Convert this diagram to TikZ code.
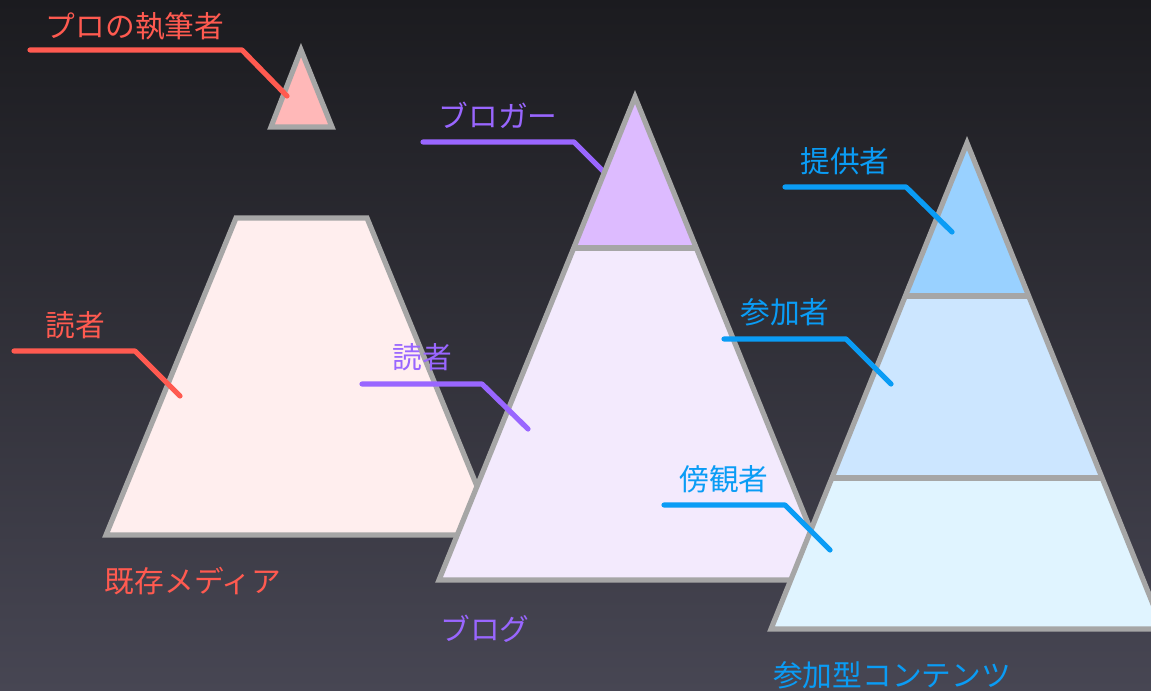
\documentclass[tikz,border=0pt]{standalone}
\usepackage{fontspec}
\setmainfont{Noto Sans CJK JP}
\definecolor{edgegray}{HTML}{A6A6A6}
\definecolor{cred}{HTML}{FF5A50}
\definecolor{cpurple}{HTML}{9966FF}
\definecolor{cblue}{HTML}{0A9CF5}
\definecolor{bgtop}{HTML}{1B1B1F}
\definecolor{bgbot}{HTML}{474653}
\definecolor{fpro}{RGB}{255,184,184}
\definecolor{fmedia}{RGB}{255,238,238}
\definecolor{fblogtop}{RGB}{221,187,255}
\definecolor{fblogbot}{RGB}{243,234,253}
\definecolor{fpctop}{RGB}{153,209,255}
\definecolor{fpcmid}{RGB}{204,230,255}
\definecolor{fpcbot}{RGB}{224,244,255}
\begin{document}
\begin{tikzpicture}[x=0.75pt,y=-0.75pt,
  shapeedge/.style={draw=edgegray,line width=3.9pt,miter limit=10,line join=miter},
  leader/.style={line width=3.9pt,line cap=round,line join=round},
  lbl/.style={inner sep=0pt,font=\fontsize{22.3}{27}\selectfont}]
\useasboundingbox (0,0) rectangle (1151,691);
\clip (0,0) rectangle (1151,691);
\shade[top color=bgtop,bottom color=bgbot] (0,0) rectangle (1151,691);

% small triangle
\draw[shapeedge,fill=fpro] (301,50) -- (332,127) -- (271,127) -- cycle;
% trapezoid
\draw[shapeedge,fill=fmedia] (236,218) -- (367,218) -- (497,535) -- (106,535) -- cycle;

% blogger leader (behind blog triangle)
\coordinate (bgA) at (423,142);
\coordinate (bgB) at (574,142);
\coordinate (bgC) at (612,180);
\draw[leader,cpurple] (bgA) -- (bgB) -- (bgC);

% blog triangle
\fill[fblogbot] (574,248) -- (696,248) -- (831,580) -- (439,580) -- cycle;
\fill[fblogtop] (635,97) -- (696,248) -- (574,248) -- cycle;
\draw[shapeedge] (574,248) -- (696,248);
\draw[shapeedge] (635,97) -- (831,580) -- (439,580) -- cycle;

% participatory triangle
\fill[fpcbot] (832,478) -- (1102,478) -- (1163,629) -- (771,629) -- cycle;
\fill[fpcmid] (905,296) -- (1029,296) -- (1102,478) -- (832,478) -- cycle;
\fill[fpctop] (967,143) -- (1029,296) -- (905,296) -- cycle;
\draw[shapeedge] (905,296) -- (1029,296);
\draw[shapeedge] (832,478) -- (1102,478);
\draw[shapeedge] (967,143) -- (1163,629) -- (771,629) -- cycle;

% labels
\node[lbl,text=cred] (pro) at (135,26) {プロの執筆者};
\node[lbl,text=cred] (rd1) at (75,325) {読者};
\node[lbl,text=cpurple] (blogger) at (498,115) {ブロガー};
\node[lbl,text=cpurple] (rd2) at (422,357) {読者};
\node[lbl,text=cblue] (prov) at (845,161) {提供者};
\node[lbl,text=cblue] (part) at (785,312) {参加者};
\node[lbl,text=cblue] (obs) at (724,479) {傍観者};
\node[lbl,text=cred] (media) at (193,581) {既存メディア};
\node[lbl,text=cpurple] (blog) at (485,629) {ブログ};
\node[lbl,text=cblue] (pc) at (892,675) {参加型コンテンツ};

% leaders on top
\coordinate (pA) at (30,50);  \coordinate (pB) at (242,50);  \coordinate (pC) at (287,96);
\draw[leader,cred] (pA) -- (pB) -- (pC);
\coordinate (r1A) at (14,351); \coordinate (r1B) at (135,351); \coordinate (r1C) at (180,396);
\draw[leader,cred] (r1A) -- (r1B) -- (r1C);
\coordinate (r2A) at (362,384); \coordinate (r2B) at (482,384); \coordinate (r2C) at (528,429);
\draw[leader,cpurple] (r2A) -- (r2B) -- (r2C);
\coordinate (svA) at (785,187); \coordinate (svB) at (906,187); \coordinate (svC) at (952,232);
\draw[leader,cblue] (svA) -- (svB) -- (svC);
\coordinate (ptA) at (724,339); \coordinate (ptB) at (846,339); \coordinate (ptC) at (891,384);
\draw[leader,cblue] (ptA) -- (ptB) -- (ptC);
\coordinate (obA) at (664,505); \coordinate (obB) at (785,505); \coordinate (obC) at (830,550);
\draw[leader,cblue] (obA) -- (obB) -- (obC);
\end{tikzpicture}
\end{document}
